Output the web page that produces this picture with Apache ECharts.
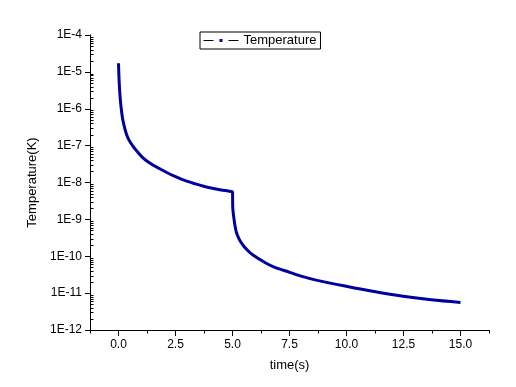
<!DOCTYPE html>
<html>
<head>
<meta charset="utf-8">
<script src="https://cdn.jsdelivr.net/npm/echarts@6/dist/echarts.min.js"></script>
<style>
html,body{margin:0;padding:0;background:#fff;}
#chart{width:516px;height:387px;}
</style>
</head>
<body>
<div id="chart"></div>
<script>
// time (s) and temperature (K)
const times = [
  0, 0.022, 0.044, 0.079, 0.118, 0.171, 0.237, 0.338, 0.456, 0.623, 0.82, 0.996, 1.184, 1.456, 1.772, 2.114, 2.5, 2.925, 3.377, 3.737, 4.11, 4.5, 4.91, 5.0,
  5.009, 5.031, 5.061, 5.105, 5.162, 5.25, 5.351, 5.513, 5.719, 5.93, 6.158, 6.478, 6.829, 7.487, 7.97, 8.715, 9.987, 11.21, 12.48, 13.71, 15.0
];
const temps = [
  1.71e-5, 6.8e-6, 3.6e-6, 1.79e-6, 1.03e-6, 5.8e-7, 3.64e-7, 2.14e-7, 1.43e-7, 9.9e-8, 6.9e-8, 5.2e-8, 4.09e-8, 3.13e-8, 2.44e-8, 1.87e-8, 1.45e-8, 1.13e-8, 9.2e-9, 7.9e-9, 7.0e-9, 6.3e-9, 5.7e-9, 5.5e-9,
  2.24e-9, 1.5e-9, 1.08e-9, 6.9e-10, 4.67e-10, 3.3e-10, 2.5e-10, 1.81e-10, 1.34e-10, 1.05e-10, 8.5e-11, 6.46e-11, 5.1e-11, 3.7e-11, 2.94e-11, 2.22e-11, 1.53e-11, 1.1e-11, 8.2e-12, 6.6e-12, 5.6e-12
];
const seriesName = 'Temperature';
const xTickValues = [0, 2.5, 5, 7.5, 10, 12.5, 15];
const xTickLabels = ['0.0', '2.5', '5.0', '7.5', '10.0', '12.5', '15.0'];
const xMinorTicks = [-1.25, 1.25, 3.75, 6.25, 8.75, 11.25, 13.75, 16.25];
const yExponents = [-12, -11, -10, -9, -8, -7, -6, -5, -4];
const yTickLabels = ['1E-12', '1E-11', '1E-10', '1E-9', '1E-8', '1E-7', '1E-6', '1E-5', '1E-4'];
const yMinorMultipliers = [2, 3, 4, 5, 6, 7, 8, 9];

const font = "'Liberation Sans', Arial, sans-serif";
const X_MIN = -1.25, X_MAX = 16.25, Y_MIN = 1e-12, Y_MAX = 1e-4;

const yMinorData = [];
yExponents.slice(0, -1).forEach(e => yMinorMultipliers.forEach(k => yMinorData.push([X_MIN, k * Math.pow(10, e)])));
const xMinorData = xMinorTicks.map(t => [t, Y_MIN]);

const chart = echarts.init(document.getElementById('chart'), null, {renderer: 'canvas'});
chart.setOption({
  animation: false,
  backgroundColor: '#fff',
  textStyle: {fontFamily: font},
  grid: {left: 90, right: 27, top: 35, bottom: 57, containLabel: false},
  legend: {
    left: 200, top: 32,
    data: [seriesName],
    itemWidth: 35, itemHeight: 11.25,
    padding: [1, 4, 1, 3],
    borderColor: '#000', borderWidth: 1, borderRadius: 0,
    textStyle: {fontSize: 13, color: '#000', fontFamily: font},
    lineStyle: {color: '#000', width: 1},
    itemStyle: {color: '#0000a0', borderColor: '#fff', borderWidth: 6}
  },
  xAxis: [{
    type: 'value', position: 'bottom', min: X_MIN, max: X_MAX,
    name: 'time(s)', nameLocation: 'middle', nameGap: 29,
    nameTextStyle: {fontSize: 13, color: '#000', fontFamily: font},
    axisLine: {onZero: false, lineStyle: {color: '#000', width: 1}},
    axisTick: {show: true, inside: false, length: 6, customValues: xTickValues, lineStyle: {color: '#000'}},
    axisLabel: {customValues: xTickValues, margin: 9, fontSize: 12, color: '#000', fontFamily: font,
      formatter: v => xTickLabels[xTickValues.indexOf(v)] ?? ''},
    splitLine: {show: false}
  }],
  yAxis: [{
    type: 'log', logBase: 10, min: Y_MIN, max: Y_MAX, show: false,
    axisLine: {onZero: false}, splitLine: {show: false}
  }, {
    type: 'value', position: 'left', min: -12, max: -4, interval: 1,
    name: 'Temperature(K)', nameLocation: 'middle', nameGap: 47,
    nameTextStyle: {fontSize: 13, color: '#000', fontFamily: font},
    axisLine: {show: true, onZero: false, lineStyle: {color: '#000', width: 1}},
    axisTick: {show: true, inside: false, length: 5, lineStyle: {color: '#000'}},
    axisLabel: {margin: 8, fontSize: 12, color: '#000', fontFamily: font,
      formatter: v => yTickLabels[yExponents.indexOf(Math.round(v))]},
    splitLine: {show: false}
  }],
  series: [{
    name: seriesName,
    type: 'line',
    xAxisIndex: 0, yAxisIndex: 0,
    data: times.map((t, i) => [t, temps[i]]),
    symbol: 'rect', showSymbol: false,
    smooth: 0.3,
    lineStyle: {color: '#0000a0', width: 3},
    itemStyle: {color: '#0000a0'}
  }, {
    name: 'yMinorTicks',
    type: 'custom', xAxisIndex: 0, yAxisIndex: 0, silent: true, clip: false,
    data: yMinorData,
    renderItem: (params, api) => {
      const p = api.coord([api.value(0), api.value(1)]);
      const y = Math.round(p[1]) + 0.5;
      return {type: 'line', shape: {x1: Math.round(p[0]), y1: y, x2: Math.round(p[0]) + 3.5, y2: y},
        style: {stroke: '#000', lineWidth: 1}};
    }
  }, {
    name: 'xMinorTicks',
    type: 'custom', xAxisIndex: 0, yAxisIndex: 0, silent: true, clip: false,
    data: xMinorData,
    renderItem: (params, api) => {
      const p = api.coord([api.value(0), api.value(1)]);
      const x = Math.round(p[0]) + 0.5;
      return {type: 'line', shape: {x1: x, y1: Math.round(p[1]), x2: x, y2: Math.round(p[1]) + 3.5},
        style: {stroke: '#000', lineWidth: 1}};
    }
  }]
});
</script>
</body>
</html>
